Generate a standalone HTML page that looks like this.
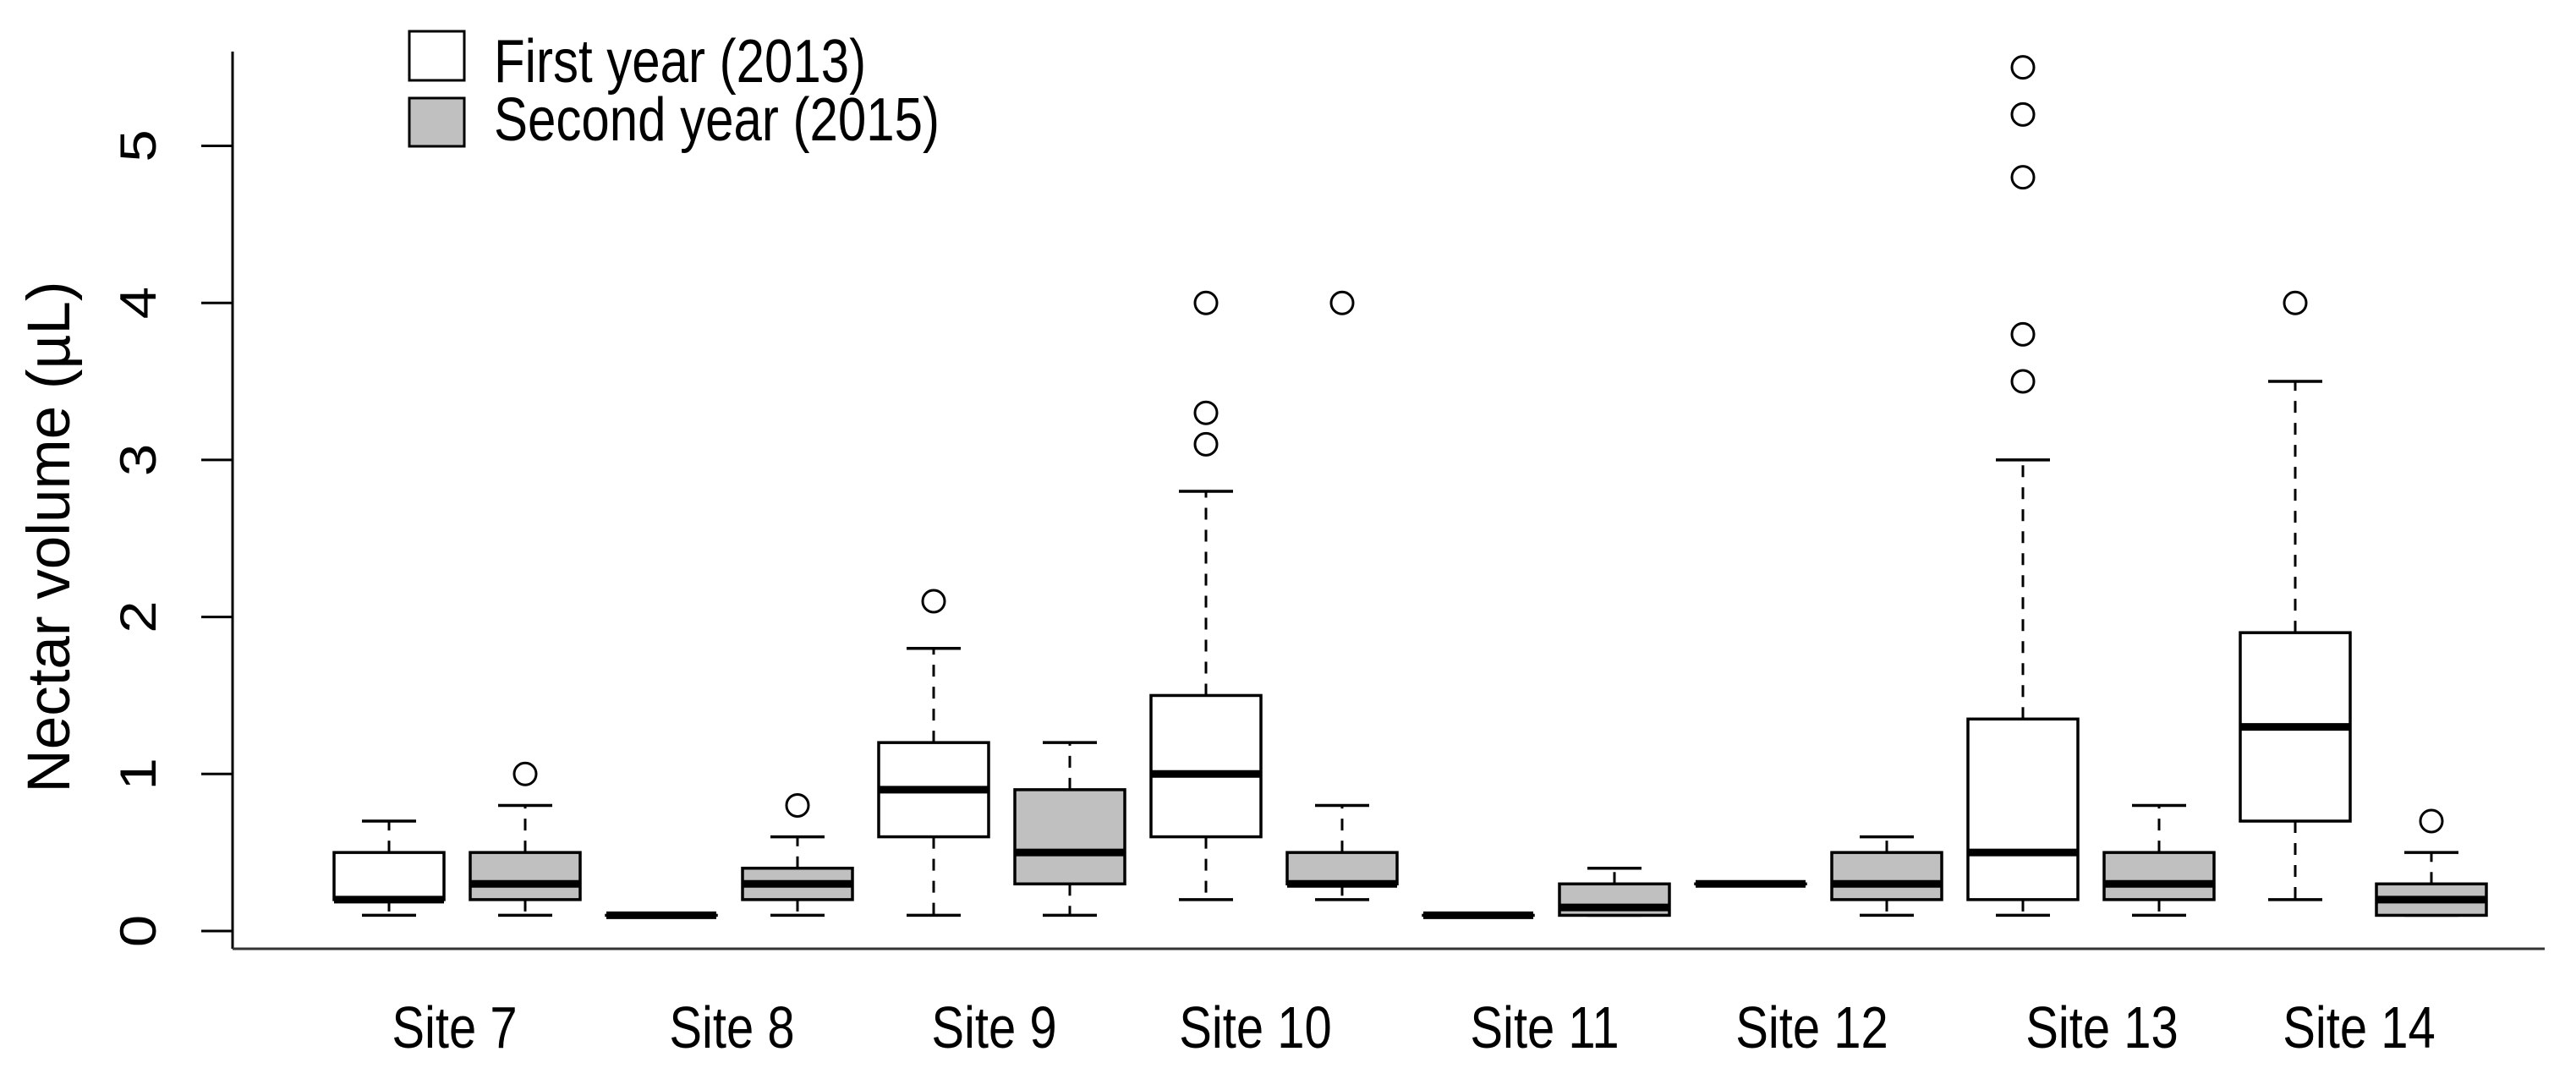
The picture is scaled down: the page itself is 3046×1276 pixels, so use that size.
<!DOCTYPE html>
<html><head><meta charset="utf-8"><style>
html,body{margin:0;padding:0;background:#fff;}
svg{display:block;font-family:"Liberation Sans",Arial,sans-serif;}
</style></head><body>
<svg id="chart" width="3046" height="1276" viewBox="0 0 3046 1276" xmlns="http://www.w3.org/2000/svg">
<rect width="3046" height="1276" fill="#fff"/>
<g id="axes"></g>
<g id="boxes"></g>
<text x="0" y="0" font-size="71" text-anchor="middle" transform="translate(82,635) rotate(-90)">Nectar volume (µL)</text>
<g>
<rect x="484" y="37" width="65" height="58" fill="#fff" stroke="#000" stroke-width="3"/>
<text x="0" y="0" font-size="60" transform="translate(584,97) scale(1,1.2)">First year (2013)</text>
<rect x="484" y="116" width="65" height="57" fill="#c0c0c0" stroke="#000" stroke-width="3"/>
<text x="0" y="0" font-size="60" transform="translate(584,166) scale(1,1.2)">Second year (2015)</text>
</g>
</svg>
<script>
const NS="http://www.w3.org/2000/svg";
const sites=["Site 7","Site 8","Site 9","Site 10","Site 11","Site 12","Site 13","Site 14"];
const yTicks=[0,1,2,3,4,5];
// [min, q1, median, q3, max] for each site
const stats2013=[[0.1,0.2,0.2,0.5,0.7],[0.1,0.1,0.1,0.1,0.1],[0.1,0.6,0.9,1.2,1.8],[0.2,0.6,1.0,1.5,2.8],[0.1,0.1,0.1,0.1,0.1],[0.3,0.3,0.3,0.3,0.3],[0.1,0.2,0.5,1.35,3.0],[0.2,0.7,1.3,1.9,3.5]];
const stats2015=[[0.1,0.2,0.3,0.5,0.8],[0.1,0.2,0.3,0.4,0.6],[0.1,0.3,0.5,0.9,1.2],[0.2,0.3,0.3,0.5,0.8],[0.1,0.1,0.15,0.3,0.4],[0.1,0.2,0.3,0.5,0.6],[0.1,0.2,0.3,0.5,0.8],[0.1,0.1,0.2,0.3,0.5]];
const out2013=[[],[],[2.1],[3.1,3.3,4.0],[],[],[3.5,3.8,4.8,5.2,5.5],[4.0]];
const out2015=[[1.0],[0.8],[],[4.0],[],[],[],[0.7]];
// label horizontal offsets from pair centre (as drawn in the original figure)
const labelShift=[-3,3,-9,-22,-2,-8,13,-5];

const Y0=1101, UNIT=185.7;
function y(v){return Y0-v*UNIT;}
function xBox(i,s){return 460+161*(2*i+s);}
function mk(tag,attrs,parent){const e=document.createElementNS(NS,tag);for(const k in attrs)e.setAttribute(k,attrs[k]);parent.appendChild(e);return e;}

const axes=document.getElementById('axes');
let e=mk('line',{x1:275,y1:61,x2:275,y2:1122,stroke:'#000','stroke-width':3},axes);


e=mk('line',{x1:275,y1:1122,x2:3009,y2:1122,stroke:'#333','stroke-width':3},axes);


yTicks.forEach(t=>{
  let l=mk('line',{x1:238,y1:y(t),x2:275,y2:y(t),stroke:'#000','stroke-width':3},axes);
  
  
  let tx=mk('text',{x:0,y:0,'font-size':60,'text-anchor':'middle',transform:`translate(184,${y(t)}) rotate(-90) scale(1.15,1)`},axes);
  tx.textContent=String(t);
  
  
});
sites.forEach((s,i)=>{
  const cx=(xBox(i,0)+xBox(i,1))/2 + labelShift[i];
  let tx=mk('text',{x:0,y:0,'font-size':58,'text-anchor':'middle',transform:`translate(${cx},1239) scale(1,1.2)`},axes);
  tx.textContent=s;
  
  
});

const boxes=document.getElementById('boxes');
function drawBox(st,outs,cx,fill,name){
  const g=mk('g',{},boxes);
  
  
  const [mn,q1,md,q3,mx]=st;
  const hw=65, cw=32;
  mk('line',{x1:cx,y1:y(q3),x2:cx,y2:y(mx),stroke:'#000','stroke-width':3,'stroke-dasharray':'14,12'},g);
  mk('line',{x1:cx,y1:y(q1),x2:cx,y2:y(mn),stroke:'#000','stroke-width':3,'stroke-dasharray':'14,12'},g);
  mk('line',{x1:cx-cw,y1:y(mx),x2:cx+cw,y2:y(mx),stroke:'#000','stroke-width':3.5},g);
  mk('line',{x1:cx-cw,y1:y(mn),x2:cx+cw,y2:y(mn),stroke:'#000','stroke-width':3.5},g);
  mk('rect',{x:cx-hw,y:y(q3),width:2*hw,height:Math.max(0.01,y(q1)-y(q3)),fill:fill,stroke:'#000','stroke-width':3.5},g);
  mk('line',{x1:cx-hw,y1:y(md),x2:cx+hw,y2:y(md),stroke:'#000','stroke-width':9},g);
  outs.forEach(o=>{
    const c=mk('circle',{cx:cx,cy:y(o),r:13,fill:'none',stroke:'#000','stroke-width':3},g);
    
    
  });
}
sites.forEach((s,i)=>{
  drawBox(stats2013[i],out2013[i],xBox(i,0),'#fff','box-2013-'+(i+7));
  drawBox(stats2015[i],out2015[i],xBox(i,1),'#c0c0c0','box-2015-'+(i+7));
});
</script>
</body></html>
